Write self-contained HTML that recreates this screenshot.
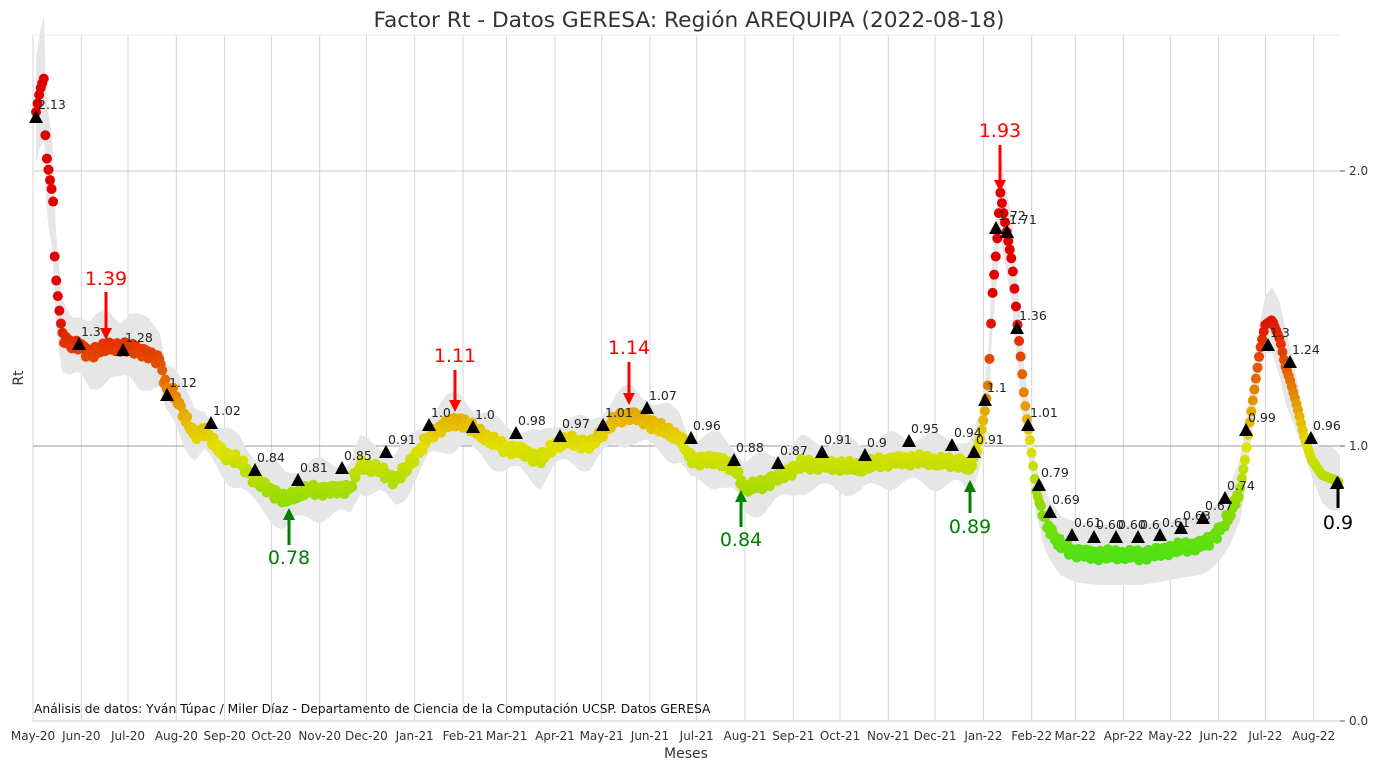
<!DOCTYPE html>
<html><head><meta charset="utf-8"><style>
body{margin:0;background:#fff;}
svg{display:block;font-family:"DejaVu Sans","Liberation Sans",sans-serif;}
</style></head><body>
<svg id="s" width="1378" height="774" xmlns="http://www.w3.org/2000/svg">
<rect width="1378" height="774" fill="#fff"/>
<g id="grid"></g>
<g id="band"></g>
<g id="dots"></g>
<g id="tri"></g>
<g id="ann"></g>
<text x="689" y="27" font-size="21.7" text-anchor="middle" fill="#333">Factor Rt - Datos GERESA: Región AREQUIPA (2022-08-18)</text>
<text x="686" y="758" font-size="14" text-anchor="middle" fill="#333">Meses</text>
<text transform="translate(23,378) rotate(-90)" font-size="14" text-anchor="middle" fill="#333">Rt</text>
<text x="34" y="713" font-size="12.3" fill="#111">Análisis de datos: Yván Túpac / Miler Díaz - Departamento de Ciencia de la Computación UCSP. Datos GERESA</text>
</svg>
<script>
const NS="http://www.w3.org/2000/svg";
function el(p,t,a,txt){const e=document.createElementNS(NS,t);for(const k in a)e.setAttribute(k,a[k]);if(txt!==undefined)e.textContent=txt;document.getElementById(p).appendChild(e);return e;}
const X=d=>33+1.558*d, Y=v=>721-275*v;
const months=["May-20","Jun-20","Jul-20","Aug-20","Sep-20","Oct-20","Nov-20","Dec-20","Jan-21","Feb-21","Mar-21","Apr-21","May-21","Jun-21","Jul-21","Aug-21","Sep-21","Oct-21","Nov-21","Dec-21","Jan-22","Feb-22","Mar-22","Apr-22","May-22","Jun-22","Jul-22","Aug-22"];
let d0=new Date(2020,4,1);
months.forEach((m,i)=>{const dt=new Date(2020,4+i,1);const d=Math.round((dt-d0)/864e5);const x=X(d);
el("grid","line",{x1:x,x2:x,y1:35,y2:721,stroke:"#d4d4d4","stroke-width":1});
el("grid","text",{x:x,y:740,"font-size":12,"text-anchor":"middle",fill:"#333"},m);});
el("grid","line",{x1:33,x2:1340,y1:Y(2),y2:Y(2),stroke:"#c8c8c8"});
el("grid","line",{x1:33,x2:1340,y1:Y(1),y2:Y(1),stroke:"#999"});
el("grid","line",{x1:33,x2:1340,y1:721,y2:721,stroke:"#ccc"});
el("grid","line",{x1:33,x2:1340,y1:35,y2:35,stroke:"#eee"});
[[2,"2.0"],[1,"1.0"],[0,"0.0"]].forEach(([v,t])=>{el("grid","line",{x1:1340,x2:1345,y1:Y(v),y2:Y(v),stroke:"#555"});el("grid","text",{x:1349,y:Y(v)+4,"font-size":12,fill:"#333"},t);});
const kp=[[36,112],[40,90],[44,78],[45,130],[47,160],[50,180],[53,197],[54,230],[55,268],[58,298],[62,335],[70,345],[80,345],[90,355],[100,350],[110,345],[120,350],[130,345],[140,352],[150,355],[160,360],[165,385],[175,395],[185,418],[195,435],[205,430],[215,445],[225,455],[240,462],[255,480],[270,490],[285,500],[295,495],[310,490],[330,490],[350,488],[360,465],[380,470],[395,480],[405,470],[420,450],[430,435],[445,425],[460,420],[475,430],[490,440],[505,448],[520,450],[540,460],[555,445],[570,440],[590,445],[605,430],[615,420],[630,415],[645,420],[660,428],[680,438],[690,458],[700,460],[720,460],[735,470],[745,488],[760,485],[775,478],[790,472],[800,465],[820,465],[840,465],[860,468],[880,462],[900,460],[920,460],[940,462],[960,462],[970,468],[975,455],[980,440],[985,410],[988,385],[990,350],[992,300],[995,265],[998,230],[1000,190],[1003,210],[1008,240],[1012,262],[1015,295],[1018,330],[1021,360],[1024,395],[1027,420],[1030,440],[1033,465],[1036,490],[1040,505],[1045,520],[1050,530],[1060,545],[1070,550],[1080,553],[1100,555],[1120,555],[1140,555],[1160,552],[1180,548],[1200,545],[1210,540],[1220,530],[1230,515],[1240,490],[1245,460],[1250,420],[1255,385],[1260,350],[1265,325],[1272,320],[1280,340],[1285,365],[1290,380],[1298,410],[1305,440],[1312,460],[1322,475],[1335,480],[1340,483]];
function yAt(x){for(let i=0;i<kp.length-1;i++){if(x>=kp[i][0]&&x<=kp[i+1][0]){const t=(x-kp[i][0])/(kp[i+1][0]-kp[i][0]||1);return kp[i][1]+t*(kp[i+1][1]-kp[i][1]);}}return kp[kp.length-1][1];}
function col(v){const st=[[0.6,[80,225,20]],[0.8,[150,220,0]],[1.0,[225,225,0]],[1.1,[230,180,0]],[1.3,[228,80,0]],[1.5,[225,0,0]],[3,[225,0,0]]];
if(v<=0.6)return "rgb(80,225,20)";for(let i=0;i<st.length-1;i++){if(v<=st[i+1][0]){const t=(v-st[i][0])/(st[i+1][0]-st[i][0]);const c=st[i][1].map((a,j)=>Math.round(a+t*(st[i+1][1][j]-a)));return `rgb(${c})`;}}}
let up=[],lo=[];
for(let x=36;x<=1340;x+=2){const y=yAt(x);const v=(721-y)/275;let w=22+Math.abs(v-1)*30+6*Math.sin(x/7);if(x>1040&&x<1240)w=30;up.push(`${x},${y-w}`);lo.unshift(`${x},${y+w}`);}
el("band","polygon",{points:up.concat(lo).join(" "),fill:"#e6e6e6"});
for(let x=36;x<=1340;x+=1.558){const j=(x>60&&x<980)||(x>1040&&x<1240)?Math.sin(x*1.7)*4+Math.sin(x*0.9)*2:0;const y=yAt(x)+j;const v=(721-y)/275;el("dots","circle",{cx:x,cy:y,r:5,fill:col(v)});}
const tr=[[36,117,"2.13"],[79,344,"1.3"],[123,350,"1.28"],[167,395,"1.12"],[211,423,"1.02"],[255,470,"0.84"],[298,480,"0.81"],[342,468,"0.85"],[386,452,"0.91"],[429,425,"1.0"],[473,427,"1.0"],[516,433,"0.98"],[560,436,"0.97"],[603,425,"1.01"],[647,408,"1.07"],[691,438,"0.96"],[734,460,"0.88"],[778,463,"0.87"],[822,452,"0.91"],[865,455,"0.9"],[909,441,"0.95"],[952,445,"0.94"],[974,452,"0.91"],[985,400,"1.1"],[996,228,"1.72"],[1007,232,"1.71"],[1017,328,"1.36"],[1028,425,"1.01"],[1039,485,"0.79"],[1050,512,"0.69"],[1072,535,"0.61"],[1094,537,"0.60"],[1116,537,"0.60"],[1138,537,"0.6"],[1160,535,"0.61"],[1181,528,"0.63"],[1203,518,"0.67"],[1225,498,"0.74"],[1246,430,"0.99"],[1268,345,"1.3"],[1290,362,"1.24"],[1311,438,"0.96"],[1337,483,""]];
tr.forEach(([x,y,t])=>{el("tri","polygon",{points:`${x},${y-7} ${x-7},${y+6} ${x+7},${y+6}`,fill:"#000"});if(t)el("tri","text",{x:x+2,y:y-8,"font-size":12.5,fill:"#222"},t);});
function arrow(x,y1,y2,c){const dir=y2>y1?1:-1;el("ann","line",{x1:x,x2:x,y1:y1,y2:y2-dir*10,stroke:c,"stroke-width":3});el("ann","polygon",{points:`${x},${y2} ${x-6},${y2-dir*12} ${x+6},${y2-dir*12}`,fill:c});}
[[106,285,"1.39",292,340,"red"],[455,362,"1.11",370,412,"red"],[629,354,"1.14",362,405,"red"],[1000,137,"1.93",145,192,"red"]].forEach(a=>{el("ann","text",{x:a[0],y:a[1],"font-size":19,"text-anchor":"middle",fill:a[5]},a[2]);arrow(a[0],a[3],a[4],a[5]);});
[[289,564,"0.78",545,508,"green"],[741,546,"0.84",527,490,"green"],[970,533,"0.89",513,480,"green"],[1338,529,"0.9",508,476,"#000"]].forEach(a=>{el("ann","text",{x:a[0],y:a[1],"font-size":19,"text-anchor":"middle",fill:a[5]},a[2]);arrow(a[0],a[3],a[4],a[5]);});
</script>
</body></html>
